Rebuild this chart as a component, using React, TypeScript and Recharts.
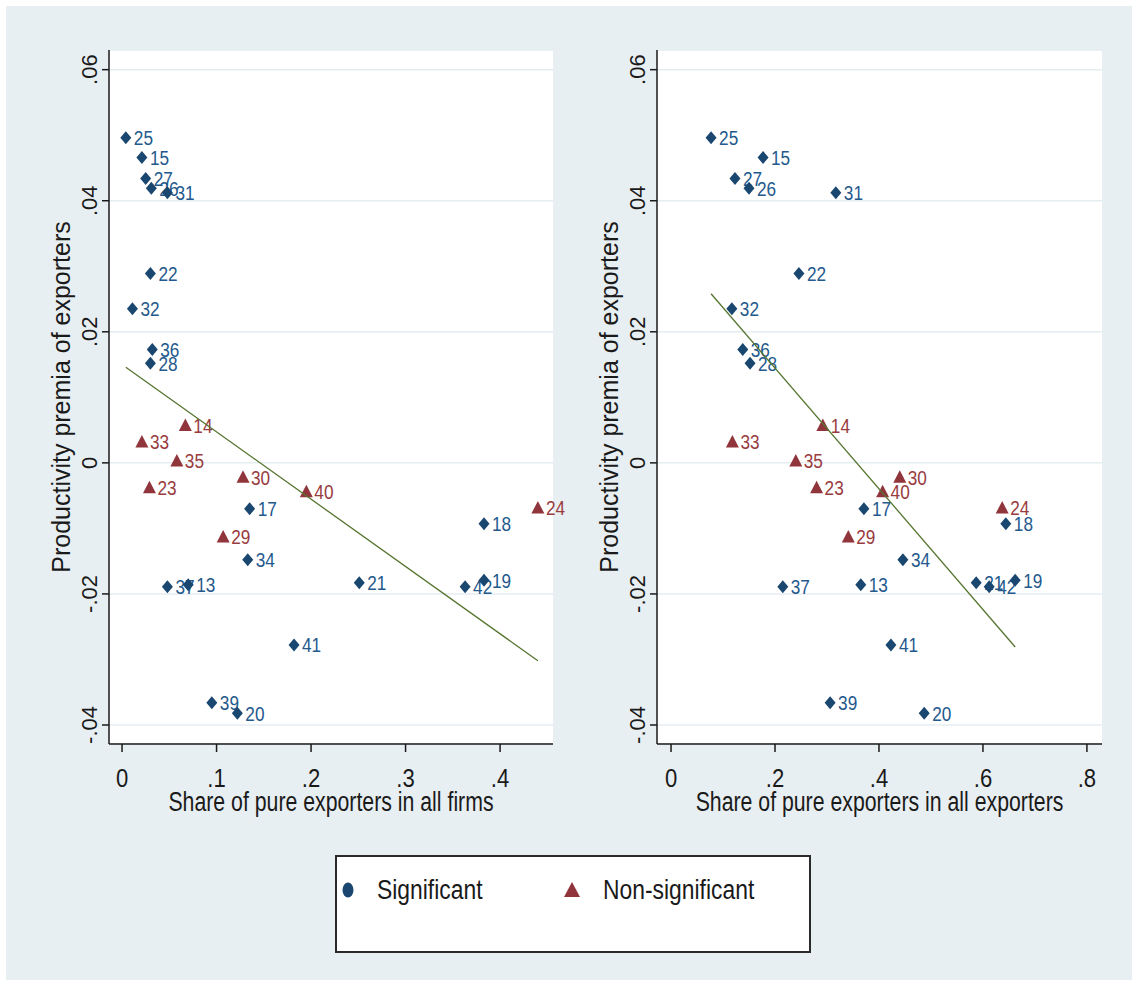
import React from 'react'
import { ScatterChart, Scatter, XAxis, YAxis, CartesianGrid, Label } from 'recharts'

const industries = [25, 15, 27, 26, 31, 22, 32, 36, 28, 14, 33, 35, 30, 23, 40, 17, 29, 34, 37, 13, 41, 39, 20, 21, 18, 42, 19, 24]
const nonSignificant = [14, 33, 35, 30, 23, 40, 29, 24]

const premia = [
  0.0496, 0.0466, 0.0434, 0.0419, 0.0412, 0.0289, 0.0235, 0.0173, 0.0152, 0.0057, 0.0032, 0.0003, -0.0022, -0.0038,
  -0.0044, -0.007, -0.0113, -0.0148, -0.0189, -0.0186, -0.0278, -0.0366, -0.0382, -0.0183, -0.0093, -0.0189, -0.0179, -0.0069,
]
const shareFirms = [
  0.004, 0.021, 0.025, 0.031, 0.048, 0.03, 0.011, 0.032, 0.03, 0.067, 0.021, 0.058, 0.128, 0.029,
  0.195, 0.135, 0.107, 0.133, 0.048, 0.07, 0.182, 0.095, 0.122, 0.251, 0.383, 0.363, 0.383, 0.44,
]
const shareExporters = [
  0.077, 0.177, 0.123, 0.15, 0.317, 0.246, 0.117, 0.138, 0.152, 0.292, 0.118, 0.24, 0.44, 0.28,
  0.407, 0.371, 0.341, 0.446, 0.215, 0.365, 0.423, 0.306, 0.487, 0.587, 0.644, 0.612, 0.662, 0.637,
]

// fitted lines (end points at min / max x)
const fitFirmsX = [0.004, 0.44]
const fitFirmsY = [0.0146, -0.0302]
const fitExportersX = [0.077, 0.662]
const fitExportersY = [0.0258, -0.0281]

const yTicks = [-0.04, -0.02, 0, 0.02, 0.04, 0.06]
const firmsTicks = [0, 0.1, 0.2, 0.3, 0.4]
const exportersTicks = [0, 0.2, 0.4, 0.6, 0.8]

const NAVY = '#1a476f'
const MAROON = '#90353b'
const GREEN = '#55752f'
const BG = '#e8eff2'
const FONT = "'Liberation Sans', Arial, sans-serif"

const fmt = (v: number) => (v === 0 ? '0' : String(v).replace('0.', '.'))

const DiamondDot = (props: any) => {
  const { cx, cy, payload } = props
  if (cx == null || cy == null) return <g />
  return (
    <g>
      <path d={`M${cx},${cy - 6.5}L${cx + 5.5},${cy}L${cx},${cy + 6.5}L${cx - 5.5},${cy}Z`} fill={NAVY} />
      <text
        transform={`translate(${cx + 8},${cy}) scale(0.86,1.05)`}
        y={7}
        fontSize={20}
        fontFamily={FONT}
        fill="#24598c"
      >
        {payload.id}
      </text>
    </g>
  )
}

const TriangleDot = (props: any) => {
  const { cx, cy, payload } = props
  if (cx == null || cy == null) return <g />
  return (
    <g>
      <path d={`M${cx},${cy - 7}L${cx + 6.5},${cy + 5.5}L${cx - 6.5},${cy + 5.5}Z`} fill={MAROON} />
      <text
        transform={`translate(${cx + 8},${cy}) scale(0.86,1.05)`}
        y={7}
        fontSize={20}
        fontFamily={FONT}
        fill="#983c40"
      >
        {payload.id}
      </text>
    </g>
  )
}

const XTick = (props: any) => {
  const { x, y, payload } = props
  return (
    <text transform={`translate(${x},${y + 33}) scale(0.85,1)`} textAnchor="middle" fontSize={26} fontFamily={FONT} fill="#1a1a1a">
      {fmt(payload.value)}
    </text>
  )
}

const YTick = (props: any) => {
  const { x, y, payload } = props
  return (
    <text transform={`translate(${x},${y}) rotate(-90)`} textAnchor="middle" fontSize={22} fontFamily={FONT} fill="#1a1a1a">
      {fmt(payload.value)}
    </text>
  )
}

const xTitle = (text: string) => (props: any) => {
  const vb = props.viewBox || { x: 0, y: 0, width: 0 }
  return (
    <text
      transform={`translate(${vb.x + vb.width / 2},${vb.y + 67}) scale(0.76,1)`}
      textAnchor="middle"
      fontSize={28}
      fontFamily={FONT}
      fill="#1a1a1a"
    >
      {text}
    </text>
  )
}

const yTitle = (props: any) => {
  const vb = props.viewBox || { x: 0, y: 0, width: 0, height: 0 }
  return (
    <text
      transform={`translate(${vb.x + vb.width - 39},${vb.y + vb.height / 2}) rotate(-90)`}
      textAnchor="middle"
      fontSize={25}
      fontFamily={FONT}
      fill="#1a1a1a"
    >
      Productivity premia of exporters
    </text>
  )
}

interface PanelProps {
  left: number
  marginLeft: number
  marginRight: number
  xs: number[]
  xDomain: [number, number]
  xTicks: number[]
  title: string
  fitX: number[]
  fitY: number[]
}

function Panel({ left, marginLeft, marginRight, xs, xDomain, xTicks, title, fitX, fitY }: PanelProps) {
  const rows = industries.map((id, i) => ({ id, x: xs[i], y: premia[i] }))
  const sig = rows.filter((r) => !nonSignificant.includes(r.id))
  const nonSig = rows.filter((r) => nonSignificant.includes(r.id))
  const fit = fitX.map((x, i) => ({ x, y: fitY[i] }))

  return (
    <div style={{ position: 'absolute', left, top: 0 }}>
      <ScatterChart width={568} height={830} margin={{ top: 50, right: marginRight, bottom: 0, left: marginLeft }}>
        <CartesianGrid vertical={false} fill="#ffffff" stroke="#e4edf0" strokeWidth={1.5} />
        <XAxis
          type="number"
          dataKey="x"
          domain={xDomain}
          ticks={xTicks}
          height={86}
          tickSize={8}
          tickMargin={2}
          tick={<XTick />}
          axisLine={{ stroke: '#1a1a1a', strokeWidth: 1.5 }}
          tickLine={{ stroke: '#1a1a1a', strokeWidth: 1.5 }}
        >
          <Label content={xTitle(title)} />
        </XAxis>
        <YAxis
          type="number"
          dataKey="y"
          domain={[-0.0429, 0.063]}
          ticks={yTicks}
          width={60}
          tickSize={7}
          tickMargin={5}
          tick={<YTick />}
          axisLine={{ stroke: '#1a1a1a', strokeWidth: 1.5 }}
          tickLine={{ stroke: '#1a1a1a', strokeWidth: 1.5 }}
        >
          <Label content={yTitle} />
        </YAxis>
        <Scatter data={sig} shape={<DiamondDot />} isAnimationActive={false} />
        <Scatter data={nonSig} shape={<TriangleDot />} isAnimationActive={false} />
        <Scatter
          data={fit}
          line={{ stroke: GREEN, strokeWidth: 1.3 }}
          shape={() => <g />}
          isAnimationActive={false}
        />
      </ScatterChart>
    </div>
  )
}

export default function App() {
  return (
    <div style={{ position: 'absolute', left: 0, top: 0, width: 1136, height: 985, background: '#ffffff' }}>
      <div style={{ position: 'absolute', left: 6, top: 6, width: 1126, height: 974, background: BG }} />
      <Panel
        left={0}
        marginLeft={49}
        marginRight={15}
        xs={shareFirms}
        xDomain={[-0.0138, 0.456]}
        xTicks={firmsTicks}
        title="Share of pure exporters in all firms"
        fitX={fitFirmsX}
        fitY={fitFirmsY}
      />
      <Panel
        left={568}
        marginLeft={29}
        marginRight={34}
        xs={shareExporters}
        xDomain={[-0.027, 0.829]}
        xTicks={exportersTicks}
        title="Share of pure exporters in all exporters"
        fitX={fitExportersX}
        fitY={fitExportersY}
      />
      <div
        style={{
          position: 'absolute',
          left: 335,
          top: 855,
          width: 476,
          height: 98,
          boxSizing: 'border-box',
          border: '2px solid #2a2a2a',
          background: '#ffffff',
        }}
      >
        <svg width={472} height={94} style={{ display: 'block' }}>
          <ellipse cx={11} cy={33} rx={5.5} ry={7.5} fill={NAVY} />
          <text transform="translate(40,42) scale(0.88,1.05)" fontSize={26} fontFamily={FONT} fill="#1a1a1a">
            Significant
          </text>
          <path d="M235,25L243,40L227,40Z" fill={MAROON} />
          <text transform="translate(266,42) scale(0.88,1.05)" fontSize={26} fontFamily={FONT} fill="#1a1a1a">
            Non-significant
          </text>
        </svg>
      </div>
    </div>
  )
}
